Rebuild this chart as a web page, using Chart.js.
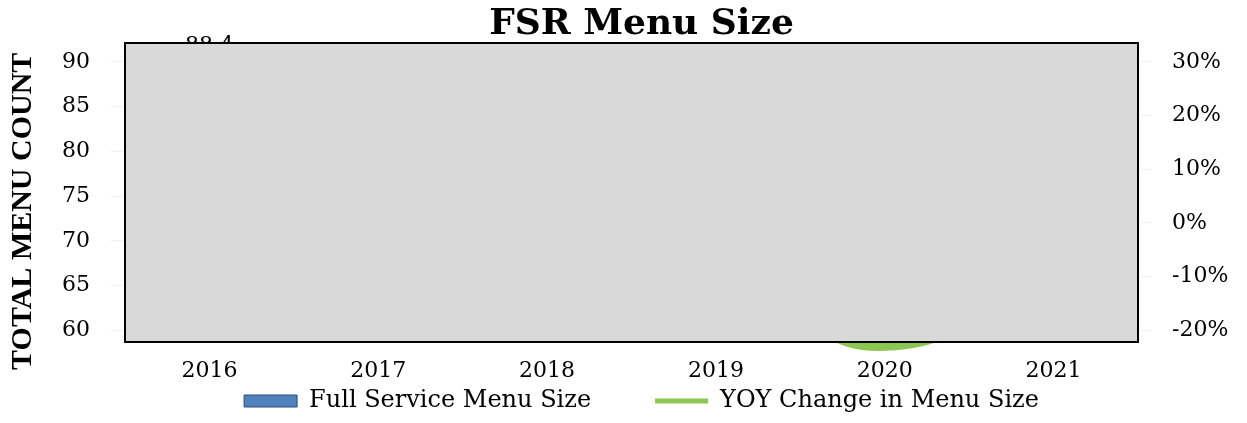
<!DOCTYPE html>
<html>
<head>
<meta charset="utf-8">
<title>FSR Menu Size</title>
<script src="https://cdn.jsdelivr.net/npm/chart.js@4.4.0/dist/chart.umd.min.js"></script>
<style>
    html, body { margin: 0; padding: 0; background: #fff; }
    #wrap { width: 1247px; height: 423px; }
</style>
</head>
<body>
<div id="wrap"><canvas id="menu-chart"></canvas></div>
<script>
const years = ["2016", "2017", "2018", "2019", "2020", "2021"];
const menuSize = [88.4, 87.0, 86.0, 85.0, 65.4, 66.0];
const yoyChange = [-0.010, -0.016, -0.011, -0.012, -0.231, 0.009];
const countTicks = [60, 65, 70, 75, 80, 85, 90];
const pctTicks = [-0.2, -0.1, 0, 0.1, 0.2, 0.3];

const serif = "DejaVu Serif";
const green = "#8cc751";
const blue = "#4f81bd";

// labels on the bars, then the grey plot-area panel drawn over everything
const coverPanel = {
    id: "coverPanel",
    afterDatasetsDraw(chart) {
        const ctx = chart.ctx;
        const a = chart.chartArea;
        ctx.save();
        ctx.font = "22px '" + serif + "'";
        ctx.fillStyle = "#000";
        ctx.textAlign = "center";
        chart.getDatasetMeta(0).data.forEach((bar, i) => {
            ctx.fillText(menuSize[i].toFixed(1), bar.x, bar.y - 30);
        });
        ctx.fillStyle = "#d9d9d9";
        ctx.fillRect(a.left, a.top, a.width, a.height);
        ctx.lineWidth = 2;
        ctx.strokeStyle = "#000";
        ctx.strokeRect(a.left, a.top, a.width, a.height);
        ctx.restore();
    }
};

new Chart("menu-chart", {
    type: "bar",
    data: {
        labels: years,
        datasets: [{
            label: "Full Service Menu Size",
            data: menuSize,
            backgroundColor: blue,
            yAxisID: "y",
            order: 2
        }, {
            type: "line",
            label: "YOY Change in Menu Size",
            data: yoyChange,
            borderColor: green,
            backgroundColor: green,
            borderWidth: 8,
            pointRadius: 0,
            tension: 0.6,
            clip: false,
            yAxisID: "y1",
            order: 1
        }]
    },
    options: {
        responsive: true,
        maintainAspectRatio: false,
        animation: false,
        layout: { padding: { left: 36, right: 0, top: 0, bottom: 0 } },
        plugins: {
            title: {
                display: true,
                text: "FSR Menu Size",
                color: "#000",
                font: { family: serif, size: 36, weight: "bold", lineHeight: 1.0 },
                padding: { top: 7, bottom: 0 }
            },
            legend: {
                position: "bottom",
                labels: {
                    color: "#000",
                    font: { family: serif, size: 24 },
                    padding: 4,
                    usePointStyle: true,
                    pointStyleWidth: 53,
                    boxHeight: 12,
                    generateLabels: (chart) => [{
                        text: chart.data.datasets[0].label + "\u2003\u2003\u2002",
                        pointStyle: "rect",
                        fillStyle: blue,
                        strokeStyle: "#2c4d75",
                        lineWidth: 1,
                        datasetIndex: 0
                    }, {
                        text: chart.data.datasets[1].label,
                        pointStyle: "line",
                        fillStyle: green,
                        strokeStyle: green,
                        lineWidth: 5,
                        datasetIndex: 1
                    }]
                }
            },
            tooltip: { enabled: false }
        },
        scales: {
            x: {
                grid: { display: false },
                border: { display: false },
                ticks: {
                    color: "#000",
                    font: { family: serif, size: 22 },
                    padding: 8,
                    maxRotation: 0
                },
                afterFit: (s) => { s.height = 43; }
            },
            y: {
                position: "left",
                min: 58.7,
                max: 92.1,
                afterBuildTicks: (s) => { s.ticks = countTicks.map(v => ({ value: v })); },
                grid: { drawOnChartArea: false, tickLength: 14, color: "#f2f2f2" },
                border: { display: false },
                ticks: {
                    color: "#000",
                    font: { family: serif, size: 22 },
                    padding: 21
                },
                title: {
                    display: true,
                    text: "TOTAL MENU COUNT\u00a0\u00a0\u00a0\u00a0\u00a0",
                    color: "#000",
                    font: { family: "Liberation Serif", size: 30, weight: "bold" },
                    padding: { top: -31, bottom: 0 }
                },
                afterFit: (s) => { s.width = 89; }
            },
            y1: {
                position: "right",
                min: -0.222,
                max: 0.335,
                afterBuildTicks: (s) => { s.ticks = pctTicks.map(v => ({ value: v })); },
                grid: { drawOnChartArea: false, tickLength: 14, color: "#f2f2f2" },
                border: { display: false },
                ticks: {
                    color: "#000",
                    font: { family: serif, size: 22 },
                    padding: 20,
                    callback: (v) => Math.round(v * 100) + "%"
                },
                afterFit: (s) => { s.width = 109; }
            }
        }
    },
    plugins: [coverPanel]
});
</script>
</body>
</html>
